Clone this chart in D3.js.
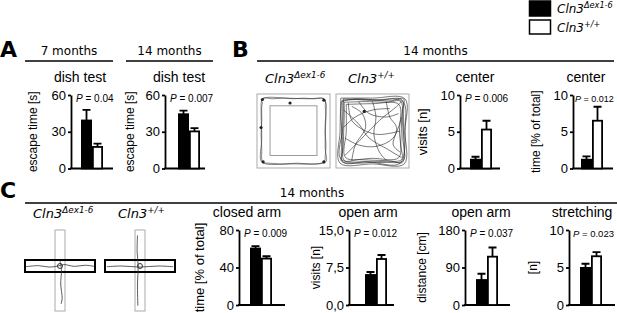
<!DOCTYPE html>
<html>
<head>
<meta charset="utf-8">
<script src="https://cdn.jsdelivr.net/npm/d3@7"></script>
<style>
  body { margin: 0; background: #fff; }
  svg { display: block; }
</style>
</head>
<body>
<div id="fig"></div>
<script>
// genotypes (legend / bar order)
const genotypes = ['ko', 'wt'];
const genoBase = ['Cln3', 'Cln3'];
const genoSup = ['\u0394ex1-6', '+/+'];

// A: dish test, escape time [s]
const dish7Means = [39.2, 17.6];
const dish7Errors = [8.6, 2.7];
const dish14Means = [44.3, 30.3];
const dish14Errors = [3.0, 2.7];
const dishTicks = [0, 30, 60];

// B: open field, center
const centerVisitMeans = [1.2, 5.3];
const centerVisitErrors = [0.4, 1.2];
const centerTimeMeans = [1.2, 6.5];
const centerTimeErrors = [0.45, 1.9];
const centerTicks = [0, 5, 10];

// C: elevated plus maze
const closedTimeMeans = [60.3, 49.5];
const closedTimeErrors = [2.5, 2.5];
const closedTicks = [0, 40, 80];
const openVisitMeans = [6.0, 9.2];
const openVisitErrors = [0.6, 0.8];
const openVisitTicks = [0, 7.5, 15];
const openDistMeans = [60, 116];
const openDistErrors = [15, 22];
const openDistTicks = [0, 90, 180];
const stretchMeans = [4.95, 6.5];
const stretchErrors = [0.55, 0.55];
const stretchTicks = [0, 5, 10];

const pValues = ['0.04', '0.007', '0.006', '0.012', '0.009', '0.012', '0.037', '0.023'];

// open field tracks, arena units 0..100
const koTrack = [[5,10],[4,5],[8,3],[20,4],[35,3],[50,4],[65,3],[80,4],[92,3],[96,6],[96,15],[97,30],[96,50],[97,70],[96,85],[95,93],[90,96],[75,97],[55,96],[35,97],[15,96],[6,95],[4,90],[4,75],[3,55],[4,35],[4,15],[5,10]];
const koTrack2 = [[3,12],[5,4],[12,2],[40,3],[70,4],[93,4],[97,10],[96,40],[96,75],[97,94],[85,97],[50,97],[10,97],[3,93],[4,60],[3,25],[3,12]];
const koSpots = [[5,5],[94,6],[94,94],[6,94],[45,10],[3,45]];
const wtLoops = [
  [[6,6],[30,5],[60,6],[92,5],[95,30],[94,60],[95,92],[70,95],[40,94],[8,95],[5,70],[6,40],[6,6]],
  [[9,9],[40,8],[70,9],[91,8],[92,40],[91,70],[92,91],[60,92],[30,91],[9,92],[8,60],[9,30],[9,9]],
  [[4,3],[50,3],[97,4],[97,50],[96,97],[50,97],[3,96],[3,50],[4,3]],
  [[12,12],[50,11],[88,12],[89,50],[88,88],[50,89],[11,88],[12,50],[12,12]],
  [[5,8],[25,4],[75,7],[95,4],[93,25],[96,75],[93,95],[75,93],[25,96],[5,93],[7,75],[4,25],[5,8]],
  [[8,4],[45,6],[94,8],[97,45],[90,96],[45,94],[4,90],[7,45],[8,4]]
];
const wtPaths = [
  [[8,20],[30,40],[45,60],[70,75],[92,88]],
  [[10,85],[35,60],[60,35],[85,15],[92,8]],
  [[15,10],[20,35],[40,50],[60,55],[90,50]],
  [[50,8],[55,30],[52,55],[60,80],[70,92]],
  [[10,60],[30,70],[55,72],[80,60],[92,30]],
  [[20,92],[25,70],[40,45],[35,25],[20,15]],
  [[70,8],[75,30],[85,45],[80,70],[90,80]],
  [[30,8],[45,25],[70,30],[88,25]],
  [[8,45],[25,30],[50,20],[75,18]]
];
const wtSpots = [[38,22]];

// plus maze tracks, maze units -1..1 around the centre
const koMazeTracks = [
  [[-0.95,0.02],[-0.6,-0.01],[-0.3,0.03],[-0.05,0],[0.1,-0.04],[0.4,0.01],[0.7,-0.02],[0.95,0.01]],
  [[0,-0.15],[0.04,0.1],[0.02,0.5],[0.06,0.9],[0.03,1.05]]
];
const wtMazeTracks = [
  [[-0.92,0.02],[-0.5,0],[0,0.03],[0.5,0],[0.92,0.02]],
  [[-0.07,-0.85],[-0.08,-0.4],[-0.05,0],[-0.07,0.5],[-0.06,1.1]]
];

const W = 617, H = 313;
const svg = d3.select('#fig').append('svg')
  .attr('width', W)
  .attr('height', H);

const sans = 'Liberation Sans, Arial, sans-serif';
const verd = 'DejaVu Sans, Verdana, sans-serif';

// panel letters
[['A', 0, 57], ['B', 232, 57], ['C', 0, 198]].forEach(([t, x, y]) => {
  svg.append('text').attr('x', x).attr('y', y)
    .style('font-family', verd).style('font-weight', 'bold')
    .style('font-size', '22px').text(t);
});

// section headers with rule underneath
const header = (text, x1, x2, y, cx) => {
  svg.append('line').attr('x1', x1).attr('x2', x2).attr('y1', y).attr('y2', y)
    .attr('stroke', '#000').attr('stroke-width', 1.4);
  svg.append('text').attr('x', cx == null ? (x1 + x2) / 2 : cx).attr('y', y - 6)
    .attr('text-anchor', 'middle')
    .style('font-family', verd).style('font-size', '12px').text(text);
};
header('7 months', 25, 113, 61);
header('14 months', 126, 213, 61);
header('14 months', 257, 614, 61);
header('14 months', 25, 617, 203, 312);

// genotype label with superscript
const genoLabel = (i, x, y, size) => {
  const t = svg.append('text').attr('x', x).attr('y', y)
    .style('font-family', verd).style('font-style', 'italic').style('font-size', size + 'px');
  t.append('tspan').text(genoBase[i]);
  t.append('tspan').attr('dy', -size * 0.4).style('font-size', (size * 0.68) + 'px').text(genoSup[i]);
};

// legend
genotypes.forEach((g, i) => {
  svg.append('rect').attr('x', 529.5).attr('y', i ? 20 : 1).attr('width', 21).attr('height', i ? 14 : 15)
    .attr('fill', i ? '#fff' : '#000').attr('stroke', '#000').attr('stroke-width', 1.5);
  genoLabel(i, 557, i ? 32 : 13, 12);
});

// bar chart with one-sided error bars
function barChart(o) {
  const y = d3.scaleLinear().domain([0, o.ticks[o.ticks.length - 1]]).range([o.bottom, o.top]);
  const x = d3.scaleBand().domain(genotypes).range([o.barX, o.barX + 22]);
  const g = svg.append('g');

  const axis = g.append('g').attr('transform', `translate(${o.ax},0)`)
    .call(d3.axisLeft(y).tickValues(o.ticks).tickFormat(o.fmt || d3.format('d'))
      .tickSize(3).tickSizeOuter(0).tickPadding(2));
  axis.selectAll('path, line').attr('stroke', '#000').attr('stroke-width', 1.8);
  axis.selectAll('text').attr('font-family', sans).attr('font-size', 13).attr('fill', '#000');

  g.append('line').attr('x1', o.ax - 0.9).attr('x2', o.ax + o.w)
    .attr('y1', y(0)).attr('y2', y(0)).attr('stroke', '#000').attr('stroke-width', 1.8);

  const data = genotypes.map((k, i) => ({ k, i, m: o.means[i], e: o.errors[i] }));

  g.selectAll('.err').data(data).enter().append('path')
    .attr('d', d => {
      const cx = x(d.k) + x.bandwidth() / 2;
      return `M${cx},${y(d.m)}V${y(d.m + d.e)}M${cx - 4},${y(d.m + d.e)}H${cx + 4}`;
    })
    .attr('stroke', '#000').attr('stroke-width', 1.8).attr('fill', 'none');

  g.selectAll('.bar').data(data).enter().append('rect')
    .attr('x', d => x(d.k) + 0.9)
    .attr('width', x.bandwidth() - 1.8)
    .attr('y', d => y(d.m))
    .attr('height', d => y(0) - y(d.m))
    .attr('fill', d => d.i ? '#fff' : '#000')
    .attr('stroke', '#000').attr('stroke-width', 1.8);

  g.append('text').attr('x', o.titleX).attr('y', o.top - 13)
    .attr('text-anchor', 'middle')
    .style('font-family', sans).style('font-size', '14px').text(o.title);

  const p = g.append('text').attr('x', o.ax + (o.pDx || 5)).attr('y', o.top + 7)
    .style('font-family', sans).style('font-size', (o.pSize || 10) + 'px');
  p.append('tspan').style('font-style', 'italic').text('P');
  p.append('tspan').text(' = ' + o.p);

  g.append('text')
    .attr('transform', `translate(${o.labelX},${(o.top + o.bottom) / 2}) rotate(-90)`)
    .attr('text-anchor', 'middle')
    .style('font-family', sans).style('font-size', (o.labelSize || 12) + 'px').text(o.label);
}

const commaFmt = d3.format('.1f');
barChart({ ax: 71, barX: 81, w: 42, top: 95, bottom: 168.5, ticks: dishTicks,
  means: dish7Means, errors: dish7Errors, title: 'dish test', titleX: 80,
  p: pValues[0], label: 'escape time [s]', labelX: 37 });
barChart({ ax: 165, barX: 178, w: 40, top: 95, bottom: 168.5, ticks: dishTicks,
  means: dish14Means, errors: dish14Errors, title: 'dish test', titleX: 179,
  p: pValues[1], label: 'escape time [s]', labelX: 134 });
barChart({ ax: 460, barX: 470, w: 40, top: 95, bottom: 168.5, ticks: centerTicks,
  means: centerVisitMeans, errors: centerVisitErrors, title: 'center', titleX: 475,
  p: pValues[2], label: 'visits [n]', labelX: 427, labelSize: 13 });
barChart({ ax: 573, barX: 581, w: 40, top: 95, bottom: 168.5, ticks: centerTicks,
  means: centerTimeMeans, errors: centerTimeErrors, title: 'center', titleX: 586,
  p: pValues[3], pDx: 2, pSize: 9, label: 'time [% of total]', labelX: 540 });

barChart({ ax: 239, barX: 250, w: 46, top: 230, bottom: 305, ticks: closedTicks,
  means: closedTimeMeans, errors: closedTimeErrors, title: 'closed arm', titleX: 247,
  p: pValues[4], label: 'time [% of total]', labelX: 204, labelSize: 13 });
barChart({ ax: 349, barX: 365, w: 45, top: 230, bottom: 305, ticks: openVisitTicks,
  fmt: d => commaFmt(d).replace('.', ','),
  means: openVisitMeans, errors: openVisitErrors, title: 'open arm', titleX: 368,
  p: pValues[5], label: 'visits [n]', labelX: 320 });
barChart({ ax: 465, barX: 476, w: 45, top: 230, bottom: 305, ticks: openDistTicks,
  means: openDistMeans, errors: openDistErrors, title: 'open arm', titleX: 481,
  p: pValues[6], label: 'distance [cm]', labelX: 426 });
barChart({ ax: 569, barX: 580, w: 46, top: 230, bottom: 305, ticks: stretchTicks,
  means: stretchMeans, errors: stretchErrors, title: 'stretching', titleX: 582,
  p: pValues[7], pDx: 4, pSize: 9.5, label: '[n]', labelX: 537 });

// ---- B: open field arenas
genoLabel(0, 265, 83, 13);
genoLabel(1, 348, 83, 13);

function arena(x0, tracks, spots, centerZone, stroke) {
  const sx = d3.scaleLinear().domain([0, 100]).range([x0 + 2, x0 + 71]);
  const sy = d3.scaleLinear().domain([0, 100]).range([96, 166]);
  const line = d3.line().x(d => sx(d[0])).y(d => sy(d[1])).curve(d3.curveCatmullRom);
  svg.append('rect').attr('x', x0).attr('y', 94).attr('width', 73).attr('height', 74)
    .attr('fill', '#fff').attr('stroke', '#aaa').attr('stroke-width', 1);
  if (centerZone) {
    svg.append('rect').attr('x', sx(16)).attr('y', sy(14)).attr('width', sx(84) - sx(16))
      .attr('height', sy(85) - sy(14)).attr('fill', 'none').attr('stroke', '#999').attr('stroke-width', 1);
  }
  svg.append('g').selectAll('path').data(tracks).enter().append('path')
    .attr('d', line).attr('fill', 'none').attr('stroke', stroke).attr('stroke-width', 0.6);
  svg.append('g').selectAll('circle').data(spots).enter().append('circle')
    .attr('cx', d => sx(d[0])).attr('cy', d => sy(d[1])).attr('r', 1.6).attr('fill', '#222');
}
arena(257, [koTrack, koTrack2], koSpots, true, '#333');
arena(336, wtLoops.concat(wtPaths), wtSpots, false, '#222');

// ---- C: plus maze
genoLabel(0, 33, 218, 13);
genoLabel(1, 118, 218, 13);

function plusMaze(cx, tracks) {
  const sx = d3.scaleLinear().domain([-1, 1]).range([cx - 36, cx + 36]);
  const sy = d3.scaleLinear().domain([-1, 1]).range([230, 302]);
  const line = d3.line().x(d => sx(d[0])).y(d => sy(d[1])).curve(d3.curveCatmullRom);
  svg.append('rect').attr('x', cx - 5).attr('y', 230).attr('width', 10).attr('height', 81)
    .attr('fill', '#fff').attr('stroke', '#aaa').attr('stroke-width', 1);
  svg.append('rect').attr('x', cx - 35).attr('y', 260).attr('width', 70).attr('height', 12)
    .attr('fill', 'none').attr('stroke', '#000').attr('stroke-width', 2);
  svg.append('g').selectAll('path').data(tracks).enter().append('path')
    .attr('d', line).attr('fill', 'none').attr('stroke', '#333').attr('stroke-width', 0.8);
  svg.append('circle').attr('cx', sx(0)).attr('cy', sy(0)).attr('r', 2.5)
    .attr('fill', 'none').attr('stroke', '#333').attr('stroke-width', 1);
}
plusMaze(60, koMazeTracks);
plusMaze(140, wtMazeTracks);
</script>
</body>
</html>
